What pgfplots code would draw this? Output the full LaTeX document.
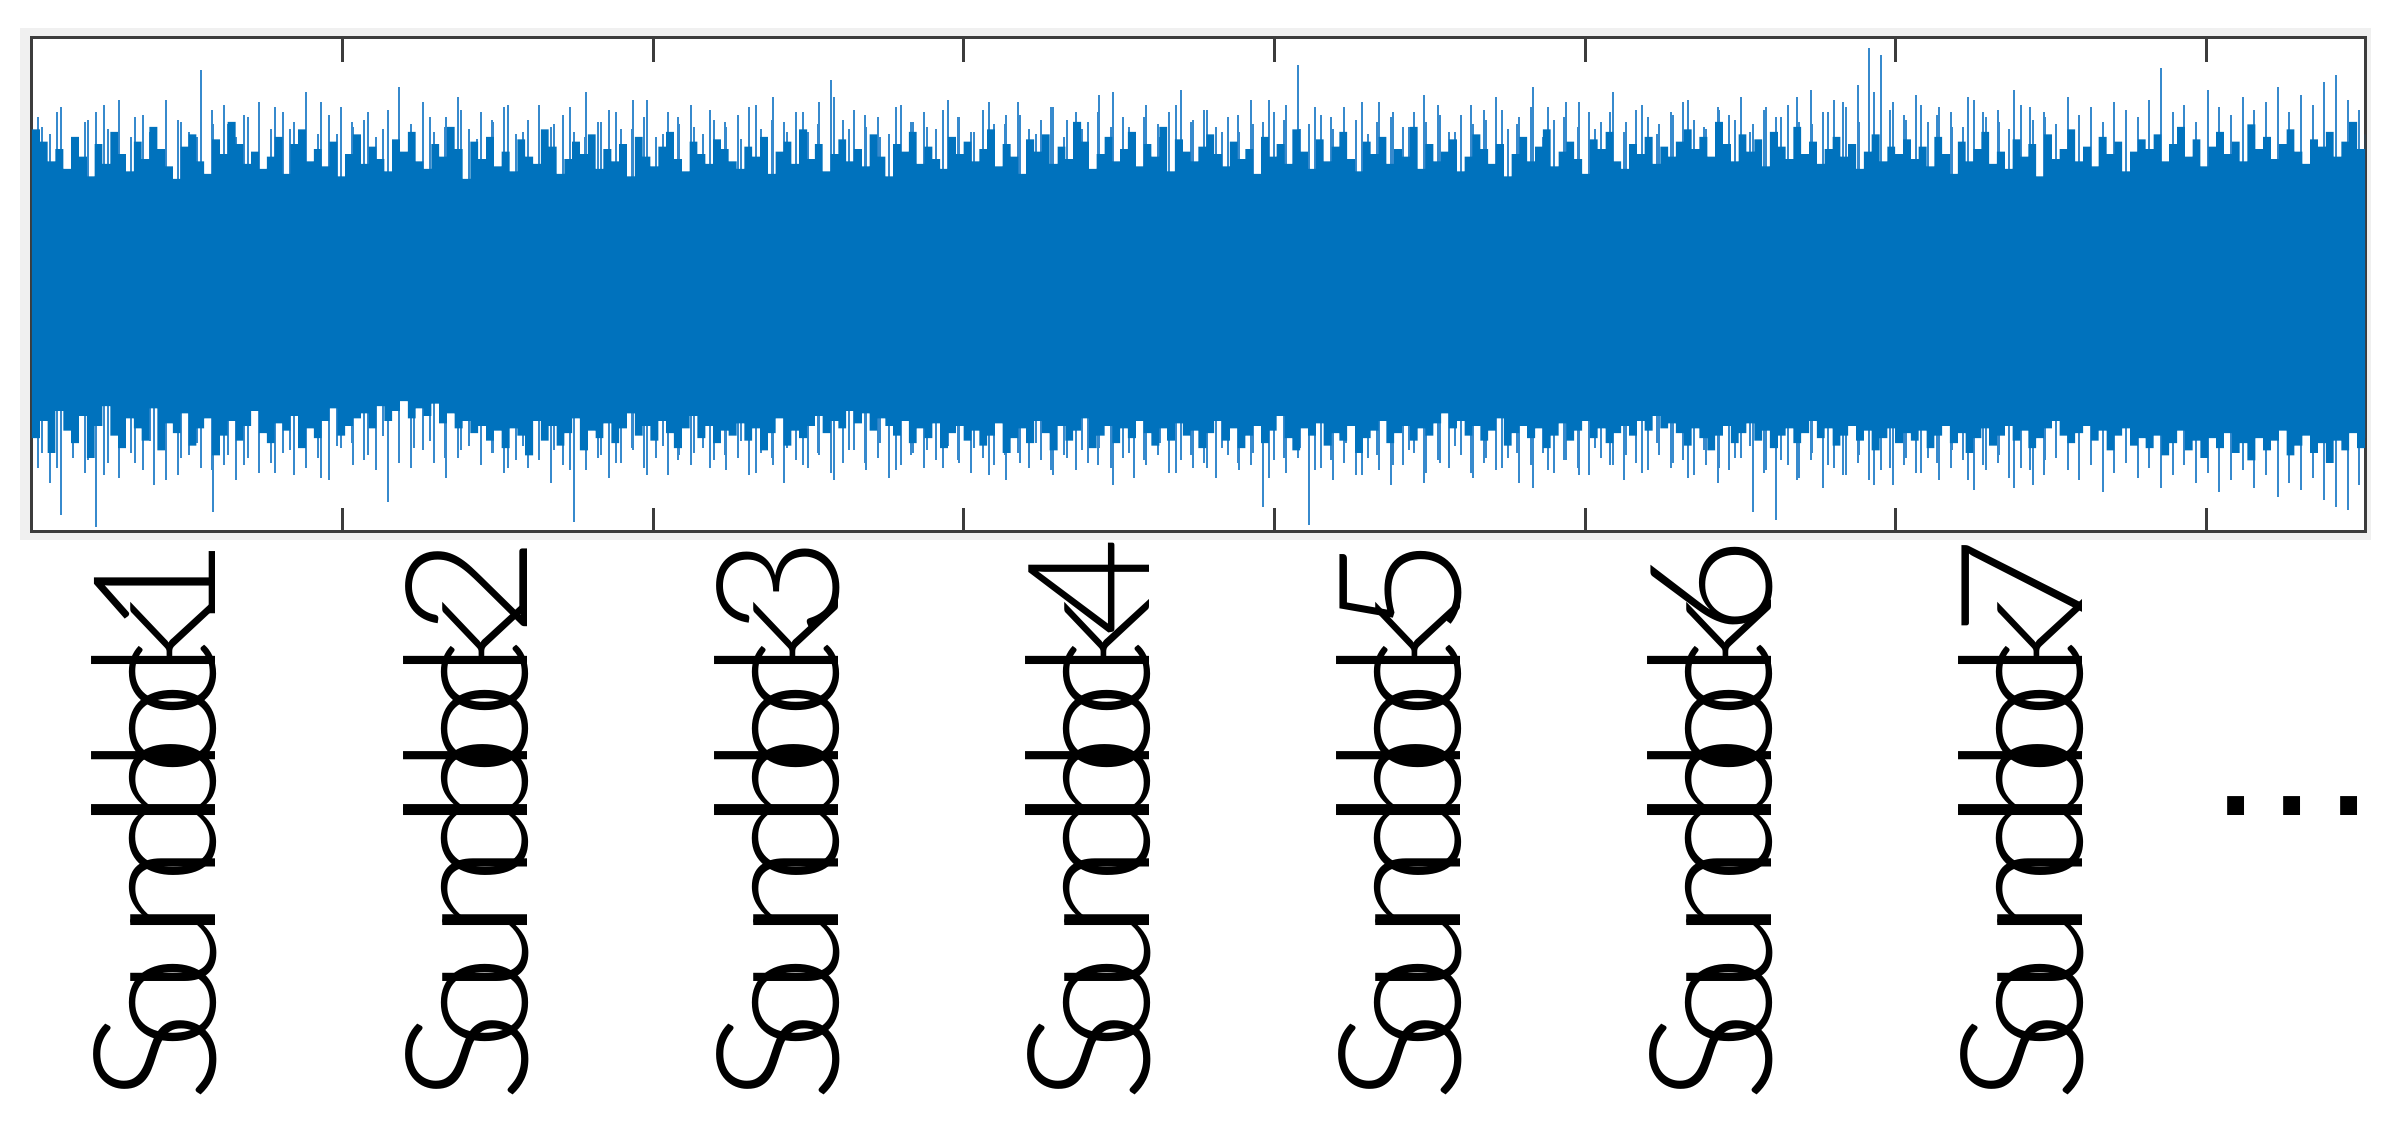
\documentclass[border=0pt]{standalone}
\usepackage{fontspec}
\setmainfont{Liberation Sans}
\newfontfamily\lblfam{Lato Light}
\usepackage{pgfplots}
\usepackage{pgfplotstable}
\pgfplotsset{compat=1.18}

\definecolor{mblue}{rgb}{0,0.447,0.741}
\definecolor{mspike}{RGB}{55,138,205}
\definecolor{frame}{RGB}{60,60,60}
\newcommand\lblfont{\lblfam\fontsize{42.6}{50}\selectfont}
% squeezed label: letters overlap as in the original, total length fixed
\newlength\sqk
\protected\def\blk#1{\setbox0\hbox{Soundblock#1}\sqk=\wd0 \advance\sqk by -141pt \divide\sqk by 10
  S\kern-\sqk o\kern-\sqk u\kern-\sqk n\kern-\sqk d\kern-\sqk b\kern-\sqk l\kern-\sqk o\kern-\sqk c\kern-\sqk k\kern-\sqk #1}

% dense part of the signal, upper and lower edge
\pgfplotstableread[row sep=\\,header=false]{
0.63\\0.58\\0.50\\0.55\\0.47\\0.60\\0.52\\0.44\\0.57\\0.49\\0.62\\0.53\\0.46\\0.58\\0.51\\0.64\\0.55\\0.48\\0.43\\0.56\\0.61\\0.50\\0.45\\0.59\\0.53\\0.66\\0.57\\0.49\\0.54\\0.47\\
0.52\\0.60\\0.45\\0.57\\0.63\\0.50\\0.55\\0.48\\0.58\\0.44\\0.53\\0.61\\0.49\\0.56\\0.51\\0.46\\0.59\\0.54\\0.62\\0.50\\0.47\\0.57\\0.52\\0.64\\0.55\\0.43\\0.58\\0.51\\0.60\\0.48\\
0.54\\0.46\\0.59\\0.52\\0.49\\0.63\\0.56\\0.45\\0.51\\0.58\\0.53\\0.61\\0.47\\0.55\\0.50\\0.57\\0.44\\0.60\\0.52\\0.48\\0.56\\0.62\\0.51\\0.46\\0.58\\0.53\\0.49\\0.59\\0.55\\0.50\\
0.47\\0.56\\0.52\\0.60\\0.45\\0.54\\0.58\\0.49\\0.63\\0.51\\0.57\\0.46\\0.53\\0.59\\0.50\\0.55\\0.48\\0.61\\0.52\\0.44\\0.57\\0.54\\0.62\\0.49\\0.56\\0.51\\0.47\\0.60\\0.53\\0.58\\
0.50\\0.55\\0.63\\0.48\\0.57\\0.52\\0.45\\0.59\\0.54\\0.61\\0.49\\0.56\\0.51\\0.66\\0.58\\0.47\\0.53\\0.60\\0.50\\0.55\\0.62\\0.48\\0.57\\0.52\\0.64\\0.46\\0.59\\0.54\\0.50\\0.56\\
0.61\\0.53\\0.48\\0.58\\0.51\\0.55\\0.45\\0.60\\0.52\\0.57\\0.49\\0.63\\0.54\\0.47\\0.59\\0.50\\0.56\\0.62\\0.51\\0.46\\0.58\\0.53\\0.60\\0.49\\0.55\\0.52\\0.64\\0.47\\0.57\\0.50\\
0.54\\0.59\\0.46\\0.52\\0.61\\0.55\\0.49\\0.57\\0.44\\0.53\\0.60\\0.50\\0.56\\0.63\\0.48\\0.54\\0.58\\0.51\\0.45\\0.59\\0.55\\0.62\\0.50\\0.47\\0.57\\0.53\\0.60\\0.49\\0.56\\0.52\\
0.58\\0.63\\0.55\\0.60\\0.52\\0.66\\0.57\\0.50\\0.61\\0.54\\0.59\\0.48\\0.62\\0.56\\0.51\\0.64\\0.53\\0.58\\0.49\\0.55\\0.60\\0.52\\0.57\\0.47\\0.54\\0.61\\0.50\\0.56\\0.53\\0.59\\
0.51\\0.56\\0.48\\0.60\\0.53\\0.45\\0.58\\0.50\\0.55\\0.62\\0.49\\0.54\\0.47\\0.59\\0.52\\0.57\\0.44\\0.61\\0.51\\0.55\\0.63\\0.50\\0.56\\0.48\\0.60\\0.53\\0.58\\0.46\\0.54\\0.59\\
0.55\\0.61\\0.50\\0.57\\0.64\\0.52\\0.59\\0.48\\0.56\\0.62\\0.53\\0.58\\0.50\\0.65\\0.55\\0.60\\0.51\\0.57\\0.63\\0.54\\0.49\\0.59\\0.56\\0.62\\0.52\\0.58\\0.66\\0.55\\0.61\\0.57\\
}\upperdata

\pgfplotstableread[row sep=\\,header=false]{
-0.62\\-0.55\\-0.68\\-0.51\\-0.59\\-0.64\\-0.53\\-0.70\\-0.57\\-0.49\\-0.61\\-0.66\\-0.54\\-0.58\\-0.63\\-0.50\\-0.67\\-0.56\\-0.60\\-0.52\\-0.65\\-0.58\\-0.54\\-0.69\\-0.61\\-0.55\\-0.63\\-0.57\\-0.51\\-0.60\\
-0.64\\-0.56\\-0.59\\-0.53\\-0.66\\-0.58\\-0.62\\-0.55\\-0.50\\-0.61\\-0.57\\-0.54\\-0.52\\-0.58\\-0.49\\-0.55\\-0.51\\-0.47\\-0.54\\-0.50\\-0.53\\-0.48\\-0.56\\-0.52\\-0.58\\-0.55\\-0.60\\-0.57\\-0.63\\-0.59\\
-0.66\\-0.58\\-0.61\\-0.69\\-0.55\\-0.63\\-0.57\\-0.65\\-0.60\\-0.54\\-0.67\\-0.59\\-0.62\\-0.56\\-0.64\\-0.58\\-0.52\\-0.61\\-0.57\\-0.63\\-0.55\\-0.60\\-0.66\\-0.58\\-0.53\\-0.62\\-0.57\\-0.64\\-0.59\\-0.61\\
-0.56\\-0.63\\-0.58\\-0.67\\-0.60\\-0.54\\-0.65\\-0.59\\-0.62\\-0.57\\-0.53\\-0.60\\-0.55\\-0.58\\-0.51\\-0.56\\-0.52\\-0.59\\-0.54\\-0.57\\-0.61\\-0.55\\-0.64\\-0.58\\-0.62\\-0.56\\-0.66\\-0.60\\-0.57\\-0.63\\
-0.59\\-0.65\\-0.61\\-0.56\\-0.68\\-0.62\\-0.58\\-0.64\\-0.55\\-0.60\\-0.67\\-0.57\\-0.63\\-0.59\\-0.54\\-0.66\\-0.61\\-0.57\\-0.64\\-0.58\\-0.62\\-0.55\\-0.60\\-0.65\\-0.58\\-0.63\\-0.56\\-0.61\\-0.59\\-0.66\\
-0.60\\-0.55\\-0.63\\-0.58\\-0.66\\-0.61\\-0.57\\-0.64\\-0.59\\-0.53\\-0.62\\-0.67\\-0.58\\-0.61\\-0.56\\-0.65\\-0.60\\-0.63\\-0.57\\-0.68\\-0.62\\-0.59\\-0.55\\-0.64\\-0.60\\-0.57\\-0.63\\-0.58\\-0.61\\-0.56\\
-0.52\\-0.58\\-0.55\\-0.61\\-0.57\\-0.63\\-0.59\\-0.54\\-0.65\\-0.60\\-0.57\\-0.62\\-0.58\\-0.66\\-0.61\\-0.56\\-0.63\\-0.59\\-0.55\\-0.62\\-0.58\\-0.64\\-0.60\\-0.57\\-0.61\\-0.55\\-0.59\\-0.53\\-0.58\\-0.56\\
-0.60\\-0.65\\-0.58\\-0.62\\-0.67\\-0.61\\-0.57\\-0.64\\-0.60\\-0.56\\-0.63\\-0.59\\-0.66\\-0.61\\-0.58\\-0.64\\-0.60\\-0.55\\-0.62\\-0.58\\-0.65\\-0.61\\-0.57\\-0.63\\-0.59\\-0.67\\-0.62\\-0.58\\-0.64\\-0.60\\
-0.63\\-0.59\\-0.66\\-0.61\\-0.57\\-0.64\\-0.60\\-0.68\\-0.62\\-0.58\\-0.65\\-0.61\\-0.57\\-0.63\\-0.59\\-0.66\\-0.62\\-0.58\\-0.55\\-0.61\\-0.64\\-0.60\\-0.57\\-0.63\\-0.59\\-0.67\\-0.61\\-0.58\\-0.65\\-0.62\\
-0.66\\-0.61\\-0.69\\-0.64\\-0.59\\-0.67\\-0.63\\-0.70\\-0.62\\-0.66\\-0.60\\-0.68\\-0.64\\-0.71\\-0.62\\-0.67\\-0.63\\-0.59\\-0.69\\-0.65\\-0.61\\-0.68\\-0.64\\-0.72\\-0.63\\-0.67\\-0.60\\-0.66\\-0.62\\-0.65\\
}\lowerdata

% single peaks above and below the dense part
\pgfplotstableread[row sep=\\,header=false]{
0.68\\0.61\\0.72\\0.58\\0.66\\0.70\\0.63\\0.75\\0.60\\0.69\\0.64\\0.71\\0.67\\0.62\\0.87\\0.65\\0.73\\0.60\\0.68\\0.74\\
0.63\\0.70\\0.66\\0.78\\0.61\\0.69\\0.72\\0.64\\0.67\\0.60\\0.71\\0.80\\0.65\\0.74\\0.62\\0.68\\0.76\\0.63\\0.70\\0.66\\
0.72\\0.61\\0.67\\0.73\\0.64\\0.69\\0.62\\0.78\\0.66\\0.71\\0.63\\0.75\\0.68\\0.60\\0.70\\0.65\\0.73\\0.61\\0.67\\0.64\\
0.69\\0.72\\0.63\\0.76\\0.66\\0.70\\0.62\\0.74\\0.83\\0.67\\0.71\\0.64\\0.68\\0.61\\0.73\\0.66\\0.70\\0.63\\0.75\\0.68\\
0.62\\0.71\\0.65\\0.69\\0.74\\0.63\\0.67\\0.72\\0.60\\0.70\\0.66\\0.77\\0.64\\0.68\\0.61\\0.73\\0.65\\0.70\\0.79\\0.67\\
0.71\\0.64\\0.68\\0.62\\0.75\\0.66\\0.70\\0.73\\0.89\\0.65\\0.69\\0.63\\0.72\\0.67\\0.61\\0.74\\0.68\\0.64\\0.70\\0.66\\
0.73\\0.62\\0.69\\0.65\\0.71\\0.76\\0.63\\0.68\\0.72\\0.60\\0.67\\0.74\\0.64\\0.70\\0.66\\0.78\\0.62\\0.71\\0.68\\0.65\\
0.70\\0.74\\0.67\\0.63\\0.72\\0.69\\0.76\\0.65\\0.71\\0.68\\0.73\\0.66\\0.79\\0.70\\0.75\\0.72\\0.81\\0.96\\0.93\\0.74\\
0.69\\0.77\\0.66\\0.72\\0.70\\0.64\\0.75\\0.68\\0.71\\0.63\\0.73\\0.67\\0.70\\0.65\\0.76\\0.69\\0.72\\0.66\\0.74\\0.71\\
0.68\\0.75\\0.88\\0.70\\0.73\\0.66\\0.79\\0.72\\0.69\\0.76\\0.71\\0.74\\0.80\\0.70\\0.77\\0.73\\0.82\\0.85\\0.75\\0.71\\
}\peaksup

\pgfplotstableread[row sep=\\,header=false]{
-0.74\\-0.80\\-0.93\\-0.70\\-0.76\\-0.98\\-0.72\\-0.78\\-0.68\\-0.75\\-0.81\\-0.71\\-0.77\\-0.69\\-0.74\\-0.92\\-0.73\\-0.79\\-0.70\\-0.76\\
-0.72\\-0.68\\-0.77\\-0.74\\-0.70\\-0.79\\-0.66\\-0.73\\-0.71\\-0.75\\-0.88\\-0.69\\-0.74\\-0.67\\-0.72\\-0.78\\-0.70\\-0.65\\-0.73\\-0.68\\
-0.76\\-0.71\\-0.74\\-0.69\\-0.80\\-0.73\\-0.96\\-0.75\\-0.70\\-0.78\\-0.72\\-0.67\\-0.74\\-0.70\\-0.77\\-0.69\\-0.73\\-0.66\\-0.71\\-0.75\\
-0.70\\-0.77\\-0.68\\-0.73\\-0.80\\-0.71\\-0.74\\-0.69\\-0.76\\-0.72\\-0.67\\-0.75\\-0.70\\-0.78\\-0.73\\-0.68\\-0.74\\-0.71\\-0.65\\-0.72\\
-0.76\\-0.70\\-0.73\\-0.79\\-0.68\\-0.74\\-0.71\\-0.77\\-0.69\\-0.75\\-0.72\\-0.66\\-0.74\\-0.70\\-0.78\\-0.73\\-0.69\\-0.76\\-0.71\\-0.74\\
-0.72\\-0.78\\-0.69\\-0.75\\-0.73\\-0.90\\-0.71\\-0.76\\-0.70\\-0.97\\-0.74\\-0.79\\-0.72\\-0.77\\-0.70\\-0.75\\-0.81\\-0.73\\-0.68\\-0.76\\
-0.71\\-0.74\\-0.69\\-0.78\\-0.72\\-0.75\\-0.70\\-0.80\\-0.73\\-0.68\\-0.76\\-0.71\\-0.74\\-0.77\\-0.70\\-0.73\\-0.79\\-0.72\\-0.75\\-0.69\\
-0.74\\-0.71\\-0.77\\-0.73\\-0.80\\-0.75\\-0.70\\-0.92\\-0.76\\-0.95\\-0.73\\-0.78\\-0.71\\-0.82\\-0.74\\-0.77\\-0.72\\-0.79\\-0.75\\-0.81\\
-0.73\\-0.76\\-0.70\\-0.79\\-0.74\\-0.71\\-0.83\\-0.75\\-0.72\\-0.78\\-0.74\\-0.81\\-0.77\\-0.70\\-0.75\\-0.79\\-0.73\\-0.84\\-0.76\\-0.72\\
-0.78\\-0.74\\-0.82\\-0.77\\-0.73\\-0.80\\-0.76\\-0.84\\-0.79\\-0.75\\-0.82\\-0.77\\-0.86\\-0.80\\-0.83\\-0.78\\-0.87\\-0.90\\-0.91\\-0.81\\
}\peaksdown

% second, denser row of smaller peaks
\pgfplotstableread[row sep=\\,header=false]{
0.64\\0.70\\0.59\\0.67\\0.73\\0.61\\0.68\\0.62\\0.75\\0.66\\0.60\\0.71\\0.65\\0.69\\0.58\\0.72\\0.63\\0.67\\0.74\\0.61\\
0.66\\0.70\\0.63\\0.77\\0.60\\0.68\\0.64\\0.71\\0.59\\0.67\\0.73\\0.62\\0.69\\0.65\\0.72\\0.60\\0.66\\0.70\\0.63\\0.75\\
0.61\\0.68\\0.64\\0.71\\0.66\\0.59\\0.73\\0.67\\0.62\\0.70\\0.65\\0.76\\0.63\\0.69\\0.60\\0.72\\0.66\\0.64\\0.71\\0.68\\
0.62\\0.74\\0.65\\0.69\\0.61\\0.72\\0.67\\0.63\\0.70\\0.78\\0.64\\0.68\\0.60\\0.73\\0.66\\0.71\\0.62\\0.69\\0.65\\0.75\\
0.67\\0.63\\0.72\\0.68\\0.61\\0.74\\0.66\\0.70\\0.64\\0.77\\0.69\\0.62\\0.73\\0.67\\0.71\\0.65\\0.80\\0.72\\0.68\\0.74\\
0.63\\0.70\\0.66\\0.73\\0.61\\0.69\\0.75\\0.64\\0.71\\0.67\\0.62\\0.72\\0.68\\0.76\\0.65\\0.70\\0.74\\0.66\\0.78\\0.71\\
0.67\\0.73\\0.69\\0.64\\0.76\\0.70\\0.66\\0.79\\0.72\\0.68\\
}\midup

\pgfplotstableread[row sep=\\,header=false]{
-0.68\\-0.74\\-0.65\\-0.71\\-0.77\\-0.66\\-0.72\\-0.63\\-0.79\\-0.70\\-0.64\\-0.75\\-0.69\\-0.73\\-0.62\\-0.76\\-0.67\\-0.71\\-0.78\\-0.65\\
-0.64\\-0.69\\-0.61\\-0.72\\-0.66\\-0.63\\-0.70\\-0.67\\-0.60\\-0.68\\-0.74\\-0.65\\-0.71\\-0.67\\-0.75\\-0.63\\-0.69\\-0.72\\-0.66\\-0.77\\
-0.65\\-0.71\\-0.68\\-0.74\\-0.69\\-0.63\\-0.76\\-0.70\\-0.66\\-0.73\\-0.68\\-0.79\\-0.67\\-0.72\\-0.64\\-0.75\\-0.69\\-0.67\\-0.74\\-0.71\\
-0.66\\-0.77\\-0.69\\-0.72\\-0.64\\-0.75\\-0.70\\-0.67\\-0.73\\-0.81\\-0.68\\-0.71\\-0.64\\-0.76\\-0.69\\-0.74\\-0.66\\-0.72\\-0.68\\-0.78\\
-0.70\\-0.66\\-0.75\\-0.71\\-0.64\\-0.77\\-0.69\\-0.73\\-0.67\\-0.80\\-0.72\\-0.65\\-0.76\\-0.70\\-0.74\\-0.68\\-0.82\\-0.75\\-0.71\\-0.77\\
-0.66\\-0.73\\-0.69\\-0.76\\-0.64\\-0.72\\-0.78\\-0.67\\-0.74\\-0.70\\-0.65\\-0.75\\-0.71\\-0.79\\-0.68\\-0.73\\-0.77\\-0.69\\-0.81\\-0.74\\
-0.70\\-0.76\\-0.72\\-0.67\\-0.79\\-0.73\\-0.69\\-0.82\\-0.75\\-0.71\\
}\middown

\begin{document}
\begin{tikzpicture}
\fill[black!6] (-3pt,-2pt) rectangle (584.75pt,126pt);
\begin{axis}[
  scale only axis,
  width=583.25pt, height=123.5pt,
  xmin=0, xmax=7.51, ymin=-1, ymax=1,
  axis background/.style={fill=white},
  axis line style={frame, line width=0.75pt},
  ytick=\empty,
  xtick={1,...,7}, xticklabels={},
  tick align=inside,
  major tick length=6pt,
  every tick/.style={frame, line width=0.75pt},
  extra x ticks={0.592,1.594,2.595,3.597,4.599,5.600,6.602},
  extra x tick labels={\blk1,\blk2,\blk3,\blk4,\blk5,\blk6,\blk7},
  extra x tick style={major tick length=0pt},
  xticklabel style={font=\lblfont, yshift=-1.25pt, rotate=90, anchor=base east, inner sep=0pt},
]
\addplot[ycomb, mspike, line width=0.5pt, mark=none]
  table[x expr=\coordindex*0.03755+0.0188, y index=0] {\peaksup};
\addplot[ycomb, mspike, line width=0.5pt, mark=none]
  table[x expr=\coordindex*0.03755+0.0188, y index=0] {\peaksdown};
\addplot[ycomb, mspike, line width=0.5pt, mark=none]
  table[x expr=\coordindex*0.05+0.031, y index=0] {\midup};
\addplot[ycomb, mspike, line width=0.5pt, mark=none]
  table[x expr=\coordindex*0.05+0.031, y index=0] {\middown};
\addplot[const plot, fill=mblue, draw=none]
  table[x expr=\coordindex*0.0252, y index=0] {\upperdata} \closedcycle;
\addplot[const plot, fill=mblue, draw=none]
  table[x expr=\coordindex*0.0252, y index=0] {\lowerdata} \closedcycle;
\coordinate (dots) at (axis cs:7.277,-1);
\end{axis}
\node[font=\fontsize{44.25}{50}\selectfont, anchor=base, inner sep=0pt] at ([yshift=-71pt]dots) {.\kern1.8pt.\kern1.8pt.};
\pgfresetboundingbox
\path (-8pt,-150pt) rectangle (588.5pt,133pt);
\end{tikzpicture}
\end{document}
